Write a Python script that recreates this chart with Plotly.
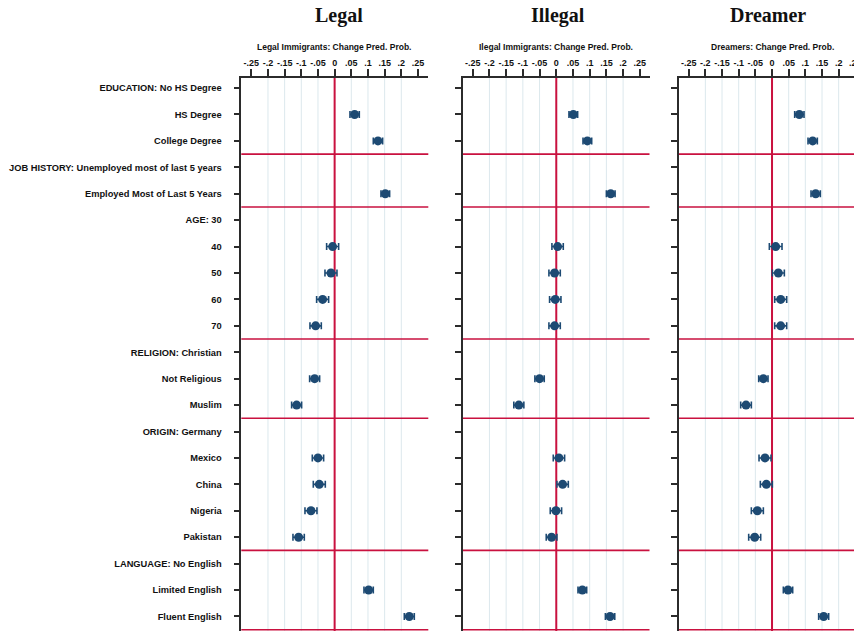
import plotly.graph_objects as go

categories = ["EDUCATION: No HS Degree", "HS Degree", "College Degree",
              "JOB HISTORY: Unemployed most of last 5 years", "Employed Most of Last 5 Years",
              "AGE: 30", "40", "50", "60", "70",
              "RELIGION: Christian", "Not Religious", "Muslim",
              "ORIGIN: Germany", "Mexico", "China", "Nigeria", "Pakistan",
              "LANGUAGE: No English", "Limited English", "Fluent English"]

legal_est = [None, 0.060, 0.130, None, 0.152, None, -0.006, -0.011, -0.036, -0.057,
             None, -0.060, -0.114, None, -0.050, -0.046, -0.071, -0.108, None, 0.102, 0.224]
legal_ci = [None, 0.014, 0.014, None, 0.013, None, 0.018, 0.018, 0.018, 0.017,
            None, 0.015, 0.015, None, 0.017, 0.018, 0.018, 0.017, None, 0.014, 0.015]

illegal_est = [None, 0.051, 0.093, None, 0.163, None, 0.004, -0.005, -0.003, -0.005,
               None, -0.050, -0.112, None, 0.008, 0.019, -0.001, -0.014, None, 0.078, 0.161]
illegal_ci = [None, 0.013, 0.013, None, 0.013, None, 0.017, 0.017, 0.017, 0.017,
              None, 0.014, 0.015, None, 0.017, 0.017, 0.017, 0.016, None, 0.013, 0.014]

dreamer_est = [None, 0.082, 0.122, None, 0.131, None, 0.011, 0.019, 0.026, 0.026,
               None, -0.026, -0.078, None, -0.021, -0.017, -0.044, -0.052, None, 0.048, 0.155]
dreamer_ci = [None, 0.014, 0.014, None, 0.014, None, 0.019, 0.018, 0.018, 0.018,
              None, 0.014, 0.016, None, 0.018, 0.018, 0.018, 0.018, None, 0.014, 0.015]

panel_titles = ["Legal", "Illegal", "Dreamer"]
panel_subtitles = ["Legal Immigrants: Change Pred. Prob.",
                   "Ilegal Immigrants: Change Pred. Prob.",
                   "Dreamers: Change Pred. Prob."]
x_tickvals = [-0.25, -0.2, -0.15, -0.1, -0.05, 0, 0.05, 0.1, 0.15, 0.2, 0.25]
x_ticktext = ["-.25", "-.2", "-.15", "-.1", "-.05", "0", ".05", ".1", ".15", ".2", ".25"]
grid_vals = [-0.2, -0.15, -0.1, -0.05, 0.05, 0.1, 0.15, 0.2]

# page has an 8px body margin, so the figure is sized to fill the rest of the window
W, H = 854, 623
TOP = 70
domains = [(233.3 / W, 420.3 / W), (454.7 / W, 641.5 / W), (670.7 / W, 1.0)]
x_ranges = [[-0.28, 0.281], [-0.28, 0.279], [-0.28, 0.27]]
y_range = [20.55, -0.38]
title_x = [331 / W, 550 / W, 760 / W]
subtitle_x = [326 / W, 548 / W, 764 / W]

NAVY = "#1d4a73"
RED = "#c9113f"
AX = "#2b2b2b"
GRID = "#dce8ed"

fig = go.Figure()

series = [(legal_est, legal_ci), (illegal_est, illegal_ci), (dreamer_est, dreamer_ci)]
for i, (est, ci) in enumerate(series):
    n = "" if i == 0 else str(i + 1)
    xs, ys, es = [], [], []
    for c, v, e in zip(categories, est, ci):
        if v is not None:
            xs.append(v); ys.append(c); es.append(e)
    fig.add_trace(go.Scatter(
        x=xs, y=ys, mode="markers", xaxis="x" + n, yaxis="y" + n,
        marker=dict(color=NAVY, size=9, line=dict(width=0)),
        error_x=dict(type="data", array=es, symmetric=True, color=NAVY,
                     thickness=1.6, width=3.5),
        showlegend=False, hoverinfo="skip"))

# group separators derived from group starts (labels containing ':')
group_starts = [k for k, c in enumerate(categories) if ":" in c]
sep_positions = [k - 0.5 for k in group_starts[1:]] + [len(categories) - 0.5]

shapes = []
annotations = []
for i in range(3):
    n = "" if i == 0 else str(i + 1)
    xa = "x" + n
    ya = "y" + n
    for g in grid_vals:
        shapes.append(dict(type="line", xref=xa, yref=ya + " domain", x0=g, x1=g,
                           y0=0, y1=1, line=dict(color=GRID, width=1), layer="below"))
    for s in sep_positions:
        shapes.append(dict(type="line", xref=xa + " domain", yref=ya, x0=0, x1=1,
                           y0=s, y1=s, line=dict(color=RED, width=1.6), layer="below"))
    shapes.append(dict(type="line", xref=xa, yref=ya + " domain", x0=0, x1=0,
                       y0=0, y1=1, line=dict(color=RED, width=2), layer="below"))
    annotations.append(dict(text="<b>%s</b>" % panel_titles[i], xref="paper", yref="paper",
                            x=title_x[i], y=1 + (TOP - 7) / (H - TOP), showarrow=False,
                            xanchor="center", yanchor="middle",
                            font=dict(family="Liberation Serif", size=20, color="#111")))
    annotations.append(dict(text="<b>%s</b>" % panel_subtitles[i], xref="paper", yref="paper",
                            x=subtitle_x[i], y=1 + (TOP - 39) / (H - TOP), showarrow=False,
                            xanchor="center", yanchor="middle",
                            font=dict(family="Liberation Sans", size=8.5, color="#111")))

layout = dict(
    width=W, height=H, margin=dict(l=0, r=0, t=TOP, b=0, autoexpand=False),
    paper_bgcolor="white", plot_bgcolor="white",
    shapes=shapes, annotations=annotations,
)
for i in range(3):
    n = "" if i == 0 else str(i + 1)
    layout["xaxis" + n] = dict(
        domain=list(domains[i]), range=x_ranges[i], side="top", anchor="y" + n,
        tickmode="array", tickvals=x_tickvals, ticktext=x_ticktext,
        ticks="outside", ticklen=7, tickwidth=1.5, tickcolor=AX,
        showline=True, linecolor=AX, linewidth=1.5,
        showgrid=False, zeroline=False, automargin=False, ticklabeloverflow="allow",
        tickfont=dict(family="Liberation Sans", size=9, color="#111", weight="bold"),
    )
    tv = categories if i != 1 else [c for c in categories if not c.startswith("JOB HISTORY")]
    layout["yaxis" + n] = dict(
        type="category", categoryorder="array", categoryarray=categories,
        range=y_range, anchor="x" + n,
        tickmode="array", tickvals=tv,
        ticks="outside", ticklen=6, tickwidth=1.5, tickcolor=AX,
        showline=True, linecolor=AX, linewidth=1.5,
        showgrid=False, zeroline=False, automargin=False,
        showticklabels=(i == 0), ticklabelstandoff=10,
        tickfont=dict(family="Liberation Sans", size=9.3, color="#111", weight="bold"),
    )

fig.update_layout(**layout)
fig.write_html("out.html")
